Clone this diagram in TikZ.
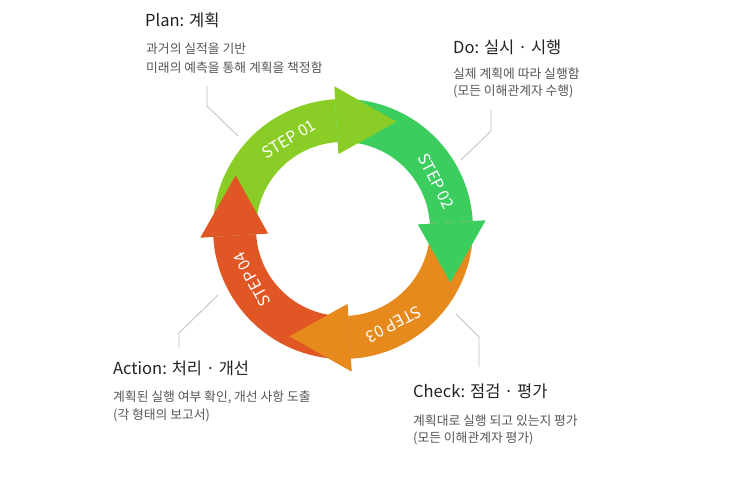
\documentclass[tikz,border=0pt]{standalone}
\usepackage{fontspec}
\setmainfont{Noto Sans CJK KR}
\definecolor{stepone}{RGB}{138,205,38}
\definecolor{steptwo}{RGB}{59,205,94}
\definecolor{stepthree}{RGB}{230,138,30}
\definecolor{stepfour}{RGB}{224,86,36}
\definecolor{titlegray}{RGB}{34,34,34}
\definecolor{descgray}{RGB}{85,85,85}
\definecolor{leadergray}{RGB}{190,190,190}

\begin{document}
\begin{tikzpicture}[x=1pt,y=1pt,
    title/.style={anchor=base west, inner sep=0pt, text=titlegray, font=\fontsize{16.5}{19}\selectfont},
    desc/.style={anchor=base west, inner sep=0pt, text=descgray, font=\fontsize{12.8}{18}\selectfont},
    steplabel/.style={text=white, inner sep=0pt, font=\fontsize{16}{18}\selectfont},
    leader/.style={draw=leadergray, line width=0.8pt}]
    \useasboundingbox (0,0) rectangle (740,502);

    % ring: bands first, heads on top
    \begin{scope}[shift={(343,273)}]
        \fill[stepone] (183.5:87pt) arc[start angle=183.5, end angle=93.5, radius=87pt] -- (93.5:130pt) arc[start angle=93.5, end angle=183.5, radius=130pt] -- cycle;
        \fill[steptwo] (93.5:87pt) arc[start angle=93.5, end angle=3.5, radius=87pt] -- (3.5:130pt) arc[start angle=3.5, end angle=93.5, radius=130pt] -- cycle;
        \fill[stepthree] (3.5:87pt) arc[start angle=3.5, end angle=-86.5, radius=87pt] -- (-86.5:130pt) arc[start angle=-86.5, end angle=3.5, radius=130pt] -- cycle;
        \fill[stepfour] (-86.5:87pt) arc[start angle=-86.5, end angle=-176.5, radius=87pt] -- (-176.5:130pt) arc[start angle=-176.5, end angle=-86.5, radius=130pt] -- cycle;
        \fill[stepone] (93.5:75pt) -- (93.5:143pt) -- (63.5:120pt) -- cycle;
        \fill[steptwo] (3.5:75pt) -- (3.5:143pt) -- (-26.5:120pt) -- cycle;
        \fill[stepthree] (-86.5:75pt) -- (-86.5:143pt) -- (-116.5:120pt) -- cycle;
        \fill[stepfour] (-176.5:75pt) -- (-176.5:143pt) -- (-206.5:120pt) -- cycle;
        \node[steplabel, rotate=31] (s1) at (121:105pt) {STEP 01};
        \node[steplabel, rotate=-63] (s2) at (27:105pt) {STEP 02};
        \node[steplabel, rotate=-152] (s3) at (-62:108pt) {STEP 03};
        \node[steplabel, rotate=119] (s4) at (209:104pt) {STEP 04};
    \end{scope}

    % texts
    \node[title] (plan) at (145,475) {Plan: 계획};
    \node[desc] (plandesca) at (146,448) {과거의 실적을 기반};
    \node[desc] (plandescb) at (146,429) {미래의 예측을 통해 계획을 책정함};
    \node[title] (do) at (453,448) {Do: 실시 · 시행};
    \node[desc] (dodesca) at (453,423) {실제 계획에 따라 실행함};
    \node[desc] (dodescb) at (453,406) {(모든 이해관계자 수행)};
    \node[title] (action) at (113,127) {Action: 처리 · 개선};
    \node[desc] (actiondesca) at (113,100) {계획된 실행 여부 확인, 개선 사항 도출};
    \node[desc] (actiondescb) at (113,82) {(각 형태의 보고서)};
    \node[title] (check) at (413,104) {Check: 점검 · 평가};
    \node[desc] (checkdesca) at (413,76) {계획대로 실행 되고 있는지 평가};
    \node[desc] (checkdescb) at (413,59) {(모든 이해관계자 평가)};

    % leaders
    \coordinate (plantop) at (207,416);
    \coordinate (planring) at (238,366);
    \coordinate (dotop) at (491,392);
    \coordinate (doring) at (461,342);
    \coordinate (actionring) at (218,207);
    \coordinate (actionend) at (179,154);
    \coordinate (checkring) at (456,188);
    \coordinate (checkend) at (479,135);
    \draw[leader] (plantop) -- ++(0,-20) -- (planring);
    \draw[leader] (dotop) -- ++(0,-21) -- (doring);
    \draw[leader] (actionring) -- (179,169) -- (actionend);
    \draw[leader] (checkring) -- (479,165) -- (checkend);
\end{tikzpicture}
\end{document}
